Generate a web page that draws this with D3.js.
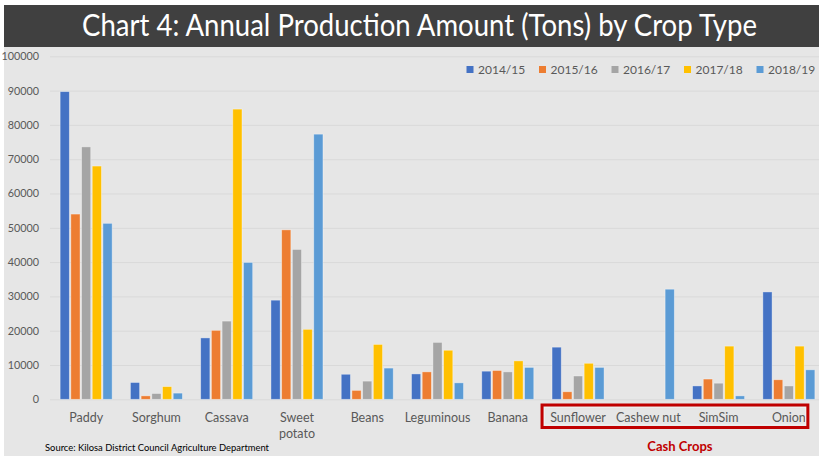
<!DOCTYPE html>
<html>
<head>
<meta charset="utf-8">
<script src="https://cdn.jsdelivr.net/npm/d3@7"></script>
<style>
  html, body { margin: 0; padding: 0; background: #ffffff; }
  svg { display: block; }
  text { font-family: Lato, "Open Sans", "Liberation Sans", sans-serif; }
</style>
</head>
<body>
<svg id="chart" width="819" height="456"></svg>
<script>
// Crop production by season, in tons
const crops = ["Paddy", "Sorghum", "Cassava", "Sweet potato", "Beans", "Leguminous",
               "Banana", "Sunflower", "Cashew nut", "SimSim", "Onion"];
const seasons = ["2014/15", "2015/16", "2016/17", "2017/18", "2018/19"];
const prod2014 = [89700, 4900, 17900, 28900, 7300, 7400, 8200, 15200, 0, 3900, 31300];
const prod2015 = [54000, 1000, 20100, 49400, 2600, 8000, 8400, 2200, 0, 5900, 5700];
const prod2016 = [73600, 1700, 22800, 43700, 5300, 16600, 8000, 6800, 0, 4700, 3900];
const prod2017 = [68000, 3700, 84600, 20400, 16000, 14300, 11200, 10500, 0, 15500, 15500];
const prod2018 = [51300, 1800, 39900, 77300, 9100, 4800, 9300, 9300, 32100, 1000, 8600];
const yTicks = [0, 10000, 20000, 30000, 40000, 50000, 60000, 70000, 80000, 90000, 100000];
const cashCrops = ["Sunflower", "Cashew nut", "SimSim", "Onion"];

const seriesValues = [prod2014, prod2015, prod2016, prod2017, prod2018];
const colors = ["#4472c4", "#ed7d31", "#a5a5a5", "#ffc000", "#5b9bd5"];

const svg = d3.select("#chart");
const W = 819, H = 456;

// panel background and title band
svg.append("rect").attr("x", 4).attr("y", 5).attr("width", W - 4).attr("height", H - 5)
  .attr("fill", "#e6e6e6");
svg.append("rect").attr("x", 4).attr("y", 5).attr("width", W - 4).attr("height", 42)
  .attr("fill", "#404040");
svg.append("text")
  .attr("x", 82).attr("y", 36)
  .attr("textLength", 675).attr("lengthAdjust", "spacingAndGlyphs")
  .attr("fill", "#ffffff").attr("font-size", 30)
  .text("Chart 4: Annual Production Amount (Tons) by Crop Type");

const x0 = d3.scaleBand().domain(crops).range([51, 824]).paddingInner(0.26).paddingOuter(0.13);
const x1 = d3.scaleBand().domain(seasons).range([0, x0.bandwidth()]).paddingInner(0.14);
const y = d3.scaleLinear().domain([0, 100000]).range([399.3, 56.3]);

// y axis with gridlines
const yAxis = svg.append("g").attr("transform", "translate(50,0)")
  .call(d3.axisLeft(y).tickValues(yTicks).tickSize(-(W - 50)).tickFormat(d3.format("d")));
yAxis.select(".domain").remove();
yAxis.selectAll(".tick line").attr("stroke", "#d9d9d9").attr("stroke-width", 1);
yAxis.selectAll(".tick text")
  .attr("x", -11).attr("fill", "#595959").attr("font-size", 10.8)
  .attr("font-family", "Lato, sans-serif");

// bars
const rows = crops.map((c, i) => ({ crop: c, vals: seasons.map((s, k) => ({ season: s, k, v: seriesValues[k][i] })) }));
const groups = svg.append("g").selectAll("g").data(rows).join("g")
  .attr("transform", d => `translate(${x0(d.crop)},0)`);
groups.selectAll("rect").data(d => d.vals.filter(e => e.v > 0)).join("rect")
  .attr("x", d => x1(d.season))
  .attr("width", x1.bandwidth())
  .attr("y", d => y(d.v))
  .attr("height", d => y(0) - y(d.v))
  .attr("fill", d => colors[d.k])
  .attr("stroke", "rgba(255,255,255,0.45)")
  .attr("stroke-width", 0.8);

// category axis
const xAxis = svg.append("g").attr("transform", "translate(0,399.3)")
  .call(d3.axisBottom(x0).tickSize(0).tickPadding(0));
xAxis.select(".domain").remove();
xAxis.selectAll(".tick text")
  .attr("fill", "#595959").attr("font-size", 12.5).attr("font-family", "Lato, sans-serif")
  .attr("y", 0).attr("dy", 0)
  .each(function (d) {
    const t = d3.select(this);
    const words = d === "Sweet potato" ? ["Sweet", "potato"] : [d];
    t.text(null);
    words.forEach((w, i) => t.append("tspan").attr("x", 0).attr("y", 22.4 + i * 16).text(w));
  });

// cash crop bracket
const cx0 = x0(cashCrops[0]) + x0.bandwidth() / 2 - 36;
const cx1 = x0(cashCrops[cashCrops.length - 1]) + x0.bandwidth() / 2 + 19;
svg.append("rect").attr("x", cx0).attr("y", 405).attr("width", cx1 - cx0).attr("height", 22.5)
  .attr("fill", "none").attr("stroke", "#c00000").attr("stroke-width", 3);
svg.append("rect").attr("x", cx0 + 2.5).attr("y", 407.5).attr("width", cx1 - cx0 - 5).attr("height", 17.5)
  .attr("fill", "none").attr("stroke", "#f2f2f2").attr("stroke-width", 0.8);
svg.append("text").attr("x", (cx0 + cx1) / 2 + 5).attr("y", 450.5)
  .attr("text-anchor", "middle").attr("fill", "#c00000")
  .attr("font-size", 13).attr("font-weight", "bold")
  .text("Cash Crops");

// legend
const legend = svg.append("g").selectAll("g").data(seasons).join("g")
  .attr("transform", (d, i) => `translate(${466.5 + i * 72.5},0)`);
legend.append("rect").attr("x", 0).attr("y", 66).attr("width", 7).attr("height", 7)
  .attr("fill", (d, i) => colors[i]);
legend.append("text").attr("x", 11.5).attr("y", 73.8)
  .attr("fill", "#595959").attr("font-size", 12).text(d => d);

// source note
svg.append("text").attr("x", 45).attr("y", 450.5)
  .attr("fill", "#000000").attr("font-size", 9)
  .attr("textLength", 224).attr("lengthAdjust", "spacingAndGlyphs")
  .text("Source: Kilosa District Council Agriculture Department");
</script>
</body>
</html>
